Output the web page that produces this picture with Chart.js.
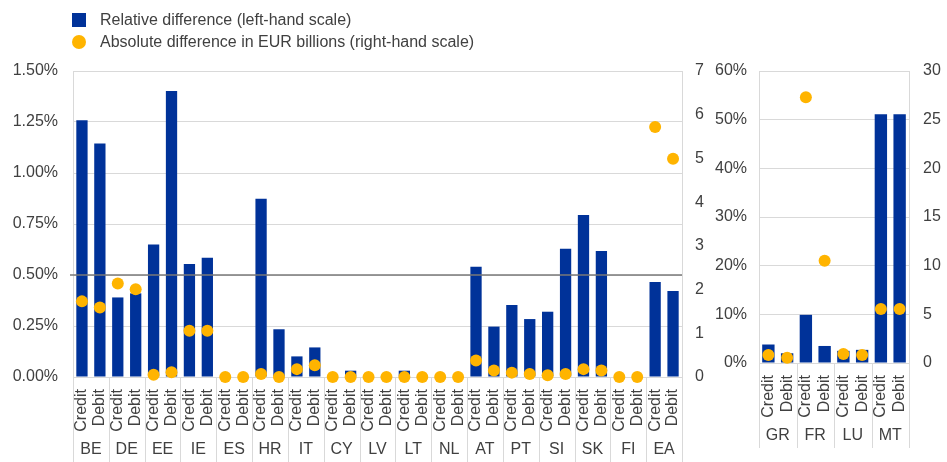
<!DOCTYPE html>
<html>
<head>
<meta charset="utf-8">
<script src="https://cdn.jsdelivr.net/npm/chart.js@4.4.1/dist/chart.umd.min.js"></script>
<style>
  body { margin: 0; background: #fff; font-family: "Liberation Sans", Arial, sans-serif; }
  #wrap { position: relative; width: 947px; height: 462px; overflow: hidden; }
  canvas { position: absolute; left: 0; top: 0; }
  .legend { position: absolute; left: 72px; top: 9px; font-size: 16px; color: #404040; z-index: 2; }
  .legend div { height: 22px; line-height: 22px; white-space: nowrap; }
  .legend span { display: inline-block; width: 14px; height: 14px; margin-right: 14px; vertical-align: -2px; }
  .sq { background: #003299; }
  .dot { background: #ffb400; border-radius: 50%; }
</style>
</head>
<body>
<div id="wrap">
  <canvas id="main" width="947" height="462"></canvas>
  <canvas id="side" width="947" height="462"></canvas>
  <div class="legend">
    <div><span class="sq"></span>Relative difference (left-hand scale)</div>
    <div><span class="dot"></span>Absolute difference in EUR billions (right-hand scale)</div>
  </div>
</div>
<script>
// values
const flows = ['Credit', 'Debit'];

const groupsMain = ['BE', 'DE', 'EE', 'IE', 'ES', 'HR', 'IT', 'CY', 'LV', 'LT', 'NL', 'AT', 'PT', 'SI', 'SK', 'FI', 'EA'];
const relativeMain = [1.258, 1.144, 0.39, 0.41, 0.649, 1.402, 0.554, 0.585, 0, 0, 0.874, 0.234, 0.101, 0.145,
  0, 0.031, 0, 0.005, 0.031, 0, 0, 0, 0.541, 0.247, 0.353, 0.284, 0.32, 0.629, 0.794, 0.618, 0, 0, 0.466, 0.422];
const absoluteMain = [1.73, 1.59, 2.14, 2.01, 0.05, 0.11, 1.06, 1.06, 0, 0, 0.07, 0, 0.18, 0.27,
  0, 0, 0, 0, 0, 0, 0, 0, 0.38, 0.15, 0.10, 0.07, 0.04, 0.07, 0.18, 0.15, 0, 0, 5.72, 4.99];
const thresholdMain = 0.5;

const groupsSide = ['GR', 'FR', 'LU', 'MT'];
const relativeSide = [3.8, 2.0, 9.9, 3.5, 2.5, 2.7, 51.1, 51.1];
const absoluteSide = [0.82, 0.55, 27.3, 10.5, 0.92, 0.82, 5.54, 5.54];

const BLUE = '#003299';
const YELLOW = '#ffb400';
const GRID = '#d9d9d9';
const TEXT = '#404040';
const FONT = '"Liberation Sans", Arial, sans-serif';

Chart.defaults.font.family = FONT;
Chart.defaults.font.size = 16;
Chart.defaults.color = TEXT;

// country labels under the Credit/Debit labels, plus separators
const groupAxis = {
  id: 'groupAxis',
  afterDraw(chart, args, opts) {
    const x = chart.scales.x;
    const ctx = chart.ctx;
    const step = x.getPixelForValue(1) - x.getPixelForValue(0);
    ctx.save();
    ctx.strokeStyle = GRID;
    ctx.lineWidth = 1;
    ctx.beginPath();
    for (let i = 0; i <= opts.groups.length; i++) {
      const px = Math.round(x.getPixelForValue(i * 2) - step / 2) + 0.5;
      ctx.moveTo(px, x.top);
      ctx.lineTo(px, x.top + 85);
    }
    ctx.stroke();
    ctx.fillStyle = TEXT;
    ctx.font = '16px ' + FONT;
    ctx.textAlign = 'center';
    ctx.textBaseline = 'middle';
    opts.groups.forEach((g, i) => {
      const cx = (x.getPixelForValue(i * 2) + x.getPixelForValue(i * 2 + 1)) / 2;
      ctx.fillText(g, cx, x.top + 73);
    });
    ctx.restore();
  },
  afterDatasetsDraw(chart, args, opts) {
    if (opts.threshold == null) return;
    const y = chart.scales.y;
    const a = chart.chartArea;
    const py = y.getPixelForValue(opts.threshold);
    const ctx = chart.ctx;
    ctx.save();
    ctx.strokeStyle = '#787878';
    ctx.lineWidth = 1.5;
    ctx.beginPath();
    ctx.moveTo(a.left - 3, py);
    ctx.lineTo(a.right, py);
    ctx.stroke();
    ctx.restore();
  }
};

function makeChart(id, cfg) {
  const labels = cfg.groups.flatMap(() => flows);
  return new Chart(document.getElementById(id), {
    type: 'bar',
    data: {
      labels: labels,
      datasets: [
        {
          type: 'line',
          label: 'Absolute difference in EUR billions (right-hand scale)',
          data: cfg.absolute,
          yAxisID: 'y1',
          showLine: false,
          pointRadius: 6,
          pointBorderWidth: 0,
          pointBackgroundColor: YELLOW,
          backgroundColor: YELLOW,
          clip: false,
          order: 0
        },
        {
          label: 'Relative difference (left-hand scale)',
          data: cfg.relative,
          yAxisID: 'y',
          backgroundColor: BLUE,
          barPercentage: cfg.barPct,
          categoryPercentage: 1,
          order: 1
        }
      ]
    },
    options: {
      responsive: false,
      animation: false,
      layout: { padding: cfg.padding },
      plugins: {
        legend: { display: false },
        tooltip: { enabled: false },
        groupAxis: { groups: cfg.groups, threshold: cfg.threshold }
      },
      scales: {
        x: {
          grid: { display: false },
          border: { color: GRID },
          ticks: { autoSkip: false, minRotation: 90, maxRotation: 90, padding: 4 },
          afterFit(s) { s.height = 85; }
        },
        y: {
          position: 'left',
          min: 0, max: cfg.leftMax,
          grid: { color: GRID, drawTicks: false },
          border: { color: GRID },
          ticks: { stepSize: cfg.leftStep, padding: cfg.leftPad, callback: cfg.leftFmt },
          afterFit(s) { s.width = cfg.leftWidth; }
        },
        y1: {
          position: 'right',
          min: 0, max: cfg.rightMax,
          grid: { drawOnChartArea: false, drawTicks: false },
          border: { color: GRID },
          ticks: { stepSize: cfg.rightStep, padding: cfg.rightPad },
          afterFit(s) { s.width = cfg.rightWidth; }
        }
      }
    },
    plugins: [groupAxis]
  });
}

makeChart('main', {
  groups: groupsMain,
  relative: relativeMain,
  absolute: absoluteMain,
  threshold: thresholdMain,
  barPct: 0.63,
  padding: { left: 0, right: 235, top: 71, bottom: 0 },
  leftMax: 1.5, leftStep: 0.25, leftPad: 15, leftWidth: 73,
  leftFmt: v => v.toFixed(2) + '%',
  rightMax: 7, rightStep: 1, rightPad: 13, rightWidth: 30
});

makeChart('side', {
  groups: groupsSide,
  relative: relativeSide,
  absolute: absoluteSide,
  threshold: null,
  barPct: 0.66,
  padding: { left: 700, right: 0, top: 71, bottom: 14 },
  leftMax: 60, leftStep: 10, leftPad: 12, leftWidth: 59,
  leftFmt: v => v + '%',
  rightMax: 30, rightStep: 5, rightPad: 14, rightWidth: 38
});
</script>
</body>
</html>
